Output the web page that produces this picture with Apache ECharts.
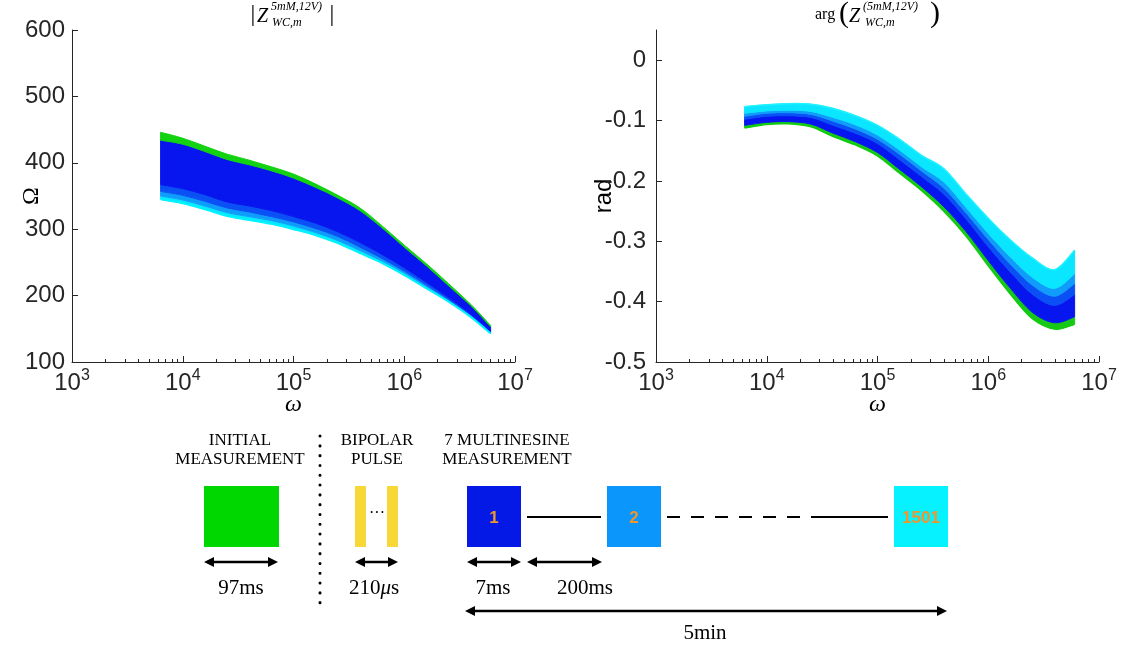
<!DOCTYPE html>
<html>
<head>
<meta charset="utf-8">
<script src="https://cdn.jsdelivr.net/npm/echarts@6/dist/echarts.min.js"></script>
<style>
  html, body { margin: 0; padding: 0; background: #fff; }
  #chart { width: 1125px; height: 653px; }
</style>
</head>
<body>
<div id="chart"></div>
<script>
// === DONNEES ===
const omega = [6310, 10000, 15850, 25120, 39810, 63100, 100000, 158500, 251200,
               398100, 631000, 1000000, 1585000, 2512000, 3981000, 6026000];

// |Z| en Ohm : mesure initiale (vert), puis enveloppes du faisceau bleu -> cyan
const magInitial  = [446, 437, 425, 413, 404, 394, 383, 368, 351, 332, 305, 276, 248, 218, 187, 155];
const magFirst    = [434, 428, 417, 405, 397, 388, 377, 363, 347, 328, 302, 273, 245, 215, 185, 153];
const magBlueEdge = [367, 361, 352, 341, 335, 328, 319, 309, 296, 280, 262, 242, 220, 197, 172, 146];
const magMid      = [357, 351, 342, 332, 326, 319, 311, 301, 289, 273, 256, 237, 216, 194, 170, 145];
const magLight    = [350, 344, 335, 325, 319, 313, 305, 295, 283, 268, 252, 234, 213, 192, 169, 144];
const magLast     = [345, 339, 330, 320, 314, 308, 300, 291, 279, 264, 249, 231, 211, 191, 168, 143];

// arg(Z) en rad
const phaseInitial = [-0.112, -0.106, -0.105, -0.110, -0.126, -0.140, -0.158, -0.187, -0.216, -0.250, -0.291, -0.340, -0.387, -0.428, -0.445, -0.437];
const phaseFirst   = [-0.108, -0.103, -0.102, -0.106, -0.121, -0.135, -0.153, -0.181, -0.210, -0.243, -0.284, -0.332, -0.378, -0.418, -0.435, -0.425];
const phaseQ1      = [-0.098, -0.093, -0.092, -0.095, -0.108, -0.121, -0.138, -0.165, -0.193, -0.222, -0.263, -0.309, -0.351, -0.388, -0.406, -0.388];
const phaseQ2      = [-0.093, -0.088, -0.087, -0.090, -0.101, -0.114, -0.131, -0.156, -0.184, -0.212, -0.253, -0.297, -0.338, -0.373, -0.391, -0.370];
const phaseQ3      = [-0.088, -0.084, -0.083, -0.085, -0.095, -0.107, -0.124, -0.149, -0.177, -0.202, -0.244, -0.287, -0.326, -0.360, -0.378, -0.354];
const phaseLast    = [-0.077, -0.074, -0.072, -0.073, -0.080, -0.092, -0.108, -0.131, -0.158, -0.180, -0.222, -0.262, -0.298, -0.328, -0.347, -0.315];

// graduations
const xMajorTicks = [1e3, 1e4, 1e5, 1e6, 1e7];
const xMinorTicks = [2e3, 3e3, 4e3, 5e3, 6e3, 7e3, 8e3, 9e3,
                     2e4, 3e4, 4e4, 5e4, 6e4, 7e4, 8e4, 9e4,
                     2e5, 3e5, 4e5, 5e5, 6e5, 7e5, 8e5, 9e5,
                     2e6, 3e6, 4e6, 5e6, 6e6, 7e6, 8e6, 9e6];
const yPhaseTicks = [-0.5, -0.4, -0.3, -0.2, -0.1, 0];

// schéma du bas
const stageTitles = [["INITIAL", "MEASUREMENT"], ["BIPOLAR", "PULSE"], ["7 MULTINESINE", "MEASUREMENT"]];
const durations = ["97ms", "7ms", "200ms", "5min"];
const boxNumbers = ["1", "2", "1501"];

const SANS = "'Liberation Sans', Arial, Helvetica, sans-serif";
const SERIF = "'Liberation Serif', 'DejaVu Serif', serif";
const AXIS = "#262626";

// couleurs du faisceau
const C_GREEN = "#12d212", C_BLUE = "#0716ee", C_MID = "#0a50f5", C_LIGHT = "#109cfb", C_CYAN = "#0ae6ff";

const magShapes = [
    { lower: magLast, upper: magLight, color: C_CYAN },
    { lower: magLight, upper: magMid, color: C_LIGHT },
    { lower: magMid, upper: magBlueEdge, color: C_MID },
    { lower: magBlueEdge, upper: magFirst, color: C_BLUE },
    { lower: magFirst, upper: magInitial, color: C_GREEN },
    { edge: magLast, color: "#00f4ff", width: 2 }
];
const phaseShapes = [
    { lower: phaseInitial, upper: phaseFirst, color: "#18c818" },
    { lower: phaseFirst, upper: phaseQ1, color: C_BLUE },
    { lower: phaseQ1, upper: phaseQ2, color: C_MID },
    { lower: phaseQ2, upper: phaseQ3, color: C_LIGHT },
    { lower: phaseQ3, upper: phaseLast, color: C_CYAN },
    { edge: phaseInitial, color: "#12cc12", width: 2 },
    { edge: phaseLast, color: "#20f2ff", width: 1.5 }
];

// tracé lissé (Catmull-Rom -> Bézier) passant par les points
function curveThrough(p) {
    let d = "";
    for (let i = 0; i < p.length - 1; i++) {
        const p0 = p[i - 1] || p[i], p1 = p[i], p2 = p[i + 1], p3 = p[i + 2] || p[i + 1];
        const c1 = [p1[0] + (p2[0] - p0[0]) / 6, p1[1] + (p2[1] - p0[1]) / 6];
        const c2 = [p2[0] - (p3[0] - p1[0]) / 6, p2[1] - (p3[1] - p1[1]) / 6];
        d += " C" + c1.join(" ") + " " + c2.join(" ") + " " + p2.join(" ");
    }
    return d;
}

// bandes du faisceau, placées via les axes
function fanSeries(shapes, xi, yi) {
    return {
        type: "custom", xAxisIndex: xi, yAxisIndex: yi, silent: true, z: 2,
        data: shapes.map(s => [omega[0], (s.upper || s.edge)[0]]),
        renderItem: (params, api) => {
            const s = shapes[params.dataIndex];
            if (s.edge) {
                const line = omega.map((w, i) => api.coord([w, s.edge[i]]));
                return {
                    type: "path",
                    shape: { pathData: "M" + line[0].join(" ") + curveThrough(line) },
                    style: { fill: null, stroke: s.color, lineWidth: s.width }
                };
            }
            const top = omega.map((w, i) => api.coord([w, s.upper[i]]));
            const bottom = omega.map((w, i) => api.coord([w, s.lower[i]])).reverse();
            const d = "M" + top[0].join(" ") + curveThrough(top) +
                      " L" + bottom[0].join(" ") + curveThrough(bottom) + " Z";
            return {
                type: "path",
                shape: { pathData: d },
                style: { fill: s.color, stroke: s.color, lineWidth: 1 }
            };
        }
    };
}

function xAxes(gridIndex) {
    return [{
        type: "log", logBase: 10, min: 1e3, max: 1e7, gridIndex, position: "bottom", z: 10,
        name: "ω", nameLocation: "middle", nameGap: 31, nameMoveOverlap: false,
        nameTextStyle: { fontFamily: SERIF, fontStyle: "italic", fontSize: 24, color: "#000" },
        axisLine: { onZero: false, lineStyle: { color: AXIS, width: 1 } },
        axisTick: { inside: true, length: 6, customValues: xMajorTicks, lineStyle: { color: AXIS } },
        axisLabel: {
            customValues: xMajorTicks, margin: 6,
            formatter: v => "{b|10}{e|" + Math.round(Math.log10(v)) + "}",
            rich: {
                b: { fontFamily: SANS, fontSize: 24, color: AXIS },
                e: { fontFamily: SANS, fontSize: 16, color: AXIS, padding: [0, 0, 14, 0] }
            }
        },
        splitLine: { show: false }
    }, {
        type: "log", logBase: 10, min: 1e3, max: 1e7, gridIndex, position: "bottom", z: 10,
        axisLine: { show: false, onZero: false },
        axisTick: { inside: true, length: 3, customValues: xMinorTicks, lineStyle: { color: AXIS } },
        axisLabel: { show: false },
        splitLine: { show: false }
    }];
}

function txt(x, y, text, size, extra) {
    return {
        type: "text", x, y, silent: true,
        style: Object.assign({
            text, fontSize: size, fontFamily: SERIF, fill: "#000",
            align: "center", verticalAlign: "middle"
        }, extra || {})
    };
}

function arrow(x1, x2, y) {
    const h = 10, w = 5;
    return [
        { type: "line", shape: { x1: x1 + 4, y1: y, x2: x2 - 4, y2: y }, style: { stroke: "#000", lineWidth: 2.5 } },
        { type: "polygon", shape: { points: [[x1, y], [x1 + h, y - w], [x1 + h, y + w]] }, style: { fill: "#000" } },
        { type: "polygon", shape: { points: [[x2, y], [x2 - h, y - w], [x2 - h, y + w]] }, style: { fill: "#000" } }
    ];
}

function box(x, w, color) {
    return { type: "rect", shape: { x, y: 486, width: w, height: 61 }, style: { fill: color } };
}

const numStyle = { fontFamily: SANS, fontWeight: "bold", fill: "#f0962c" };

const graphics = [
    // titres
    txt(253, 15, "|", 24),
    txt(257, 17, "Z", 20, { fontStyle: "italic", align: "left" }),
    txt(271, 7, "5mM,12V)", 12, { fontStyle: "italic", align: "left" }),
    txt(272, 23, "WC,m", 12, { fontStyle: "italic", align: "left" }),
    txt(332, 15, "|", 24),
    txt(815, 15, "arg", 16, { align: "left" }),
    txt(844, 14, "(", 30),
    txt(849, 17, "Z", 20, { fontStyle: "italic", align: "left" }),
    txt(863, 7, "(5mM,12V)", 12, { fontStyle: "italic", align: "left" }),
    txt(865, 23, "WC,m", 12, { fontStyle: "italic", align: "left" }),
    txt(935, 14, ")", 30),

    // en-têtes du schéma
    txt(240, 441, stageTitles[0][0], 17), txt(240, 460, stageTitles[0][1], 17),
    txt(377, 441, stageTitles[1][0], 17), txt(377, 460, stageTitles[1][1], 17),
    txt(507, 441, stageTitles[2][0], 17), txt(507, 460, stageTitles[2][1], 17),

    // séparateur pointillé
    { type: "line", shape: { x1: 320, y1: 436, x2: 320, y2: 612 },
      style: { stroke: "#000", lineWidth: 3, lineDash: [0.1, 9.7], lineCap: "round" } },

    // blocs
    box(204, 75, "#00d600"),
    box(355, 11, "#f8d838"), box(387, 11, "#f8d838"),
    txt(377, 514, "···", 16),
    box(467, 54, "#0418e6"), box(607, 54, "#0a96fa"), box(894, 54, "#06f2fe"),
    txt(494, 518, boxNumbers[0], 17, numStyle),
    txt(634, 518, boxNumbers[1], 17, numStyle),
    txt(921, 518, boxNumbers[2], 17, numStyle),

    // liaisons entre mesures
    { type: "line", shape: { x1: 527, y1: 517, x2: 601, y2: 517 }, style: { stroke: "#000", lineWidth: 2 } },
    { type: "line", shape: { x1: 667, y1: 517, x2: 813, y2: 517 }, style: { stroke: "#000", lineWidth: 2, lineDash: [13, 11] } },
    { type: "line", shape: { x1: 813, y1: 517, x2: 888, y2: 517 }, style: { stroke: "#000", lineWidth: 2 } },

    // flèches de durée
    ...arrow(204, 278, 562),
    ...arrow(355, 398, 562),
    ...arrow(467, 521, 562),
    ...arrow(527, 602, 562),
    ...arrow(465, 947, 611),

    txt(241, 588, durations[0], 21),
    {
        type: "text", x: 374, y: 588, silent: true,
        style: {
            text: "{n|210}{m|μ}{n|s}", align: "center", verticalAlign: "middle",
            rich: {
                n: { fontSize: 21, fontFamily: SERIF, fill: "#000" },
                m: { fontSize: 21, fontFamily: SERIF, fontStyle: "italic", fill: "#000" }
            }
        }
    },
    txt(493, 588, durations[1], 21),
    txt(585, 588, durations[2], 21),
    txt(705, 633, durations[3], 21)
];

const chart = echarts.init(document.getElementById("chart"), null, { renderer: "canvas" });

const option = {
    animation: false,
    backgroundColor: "#fff",
    grid: [
        { left: 72, top: 30, width: 443, height: 332 },
        { left: 656, top: 30, width: 443, height: 332 }
    ],
    xAxis: [...xAxes(0), ...xAxes(1)],
    yAxis: [{
        type: "value", gridIndex: 0, min: 100, max: 600, interval: 100, z: 10,
        name: "Ω", nameLocation: "middle", nameGap: 28, nameRotate: 90, nameMoveOverlap: false,
        nameTextStyle: { fontFamily: SERIF, fontSize: 24, color: "#000" },
        axisLine: { show: true, onZero: false, lineStyle: { color: AXIS } },
        axisTick: { show: true, inside: true, length: 6, lineStyle: { color: AXIS } },
        axisLabel: { fontFamily: SANS, fontSize: 24, color: AXIS, margin: 7 },
        splitLine: { show: false }
    }, {
        type: "value", gridIndex: 1, min: -0.5, max: 0.05, z: 10,
        name: "rad", nameLocation: "middle", nameGap: 40, nameRotate: 90, nameMoveOverlap: false,
        nameTextStyle: { fontFamily: SANS, fontSize: 24, color: "#000" },
        axisLine: { show: true, onZero: false, lineStyle: { color: AXIS } },
        axisTick: { show: true, inside: true, length: 6, customValues: yPhaseTicks, lineStyle: { color: AXIS } },
        axisLabel: {
            customValues: yPhaseTicks, fontFamily: SANS, fontSize: 24, color: AXIS, margin: 10,
            formatter: v => String(+v.toFixed(1))
        },
        splitLine: { show: false }
    }],
    series: [
        fanSeries(magShapes, 0, 0),
        fanSeries(phaseShapes, 2, 1)
    ],
    graphic: graphics
};

chart.setOption(option);
window.addEventListener("resize", () => chart.resize());
</script>
</body>
</html>
